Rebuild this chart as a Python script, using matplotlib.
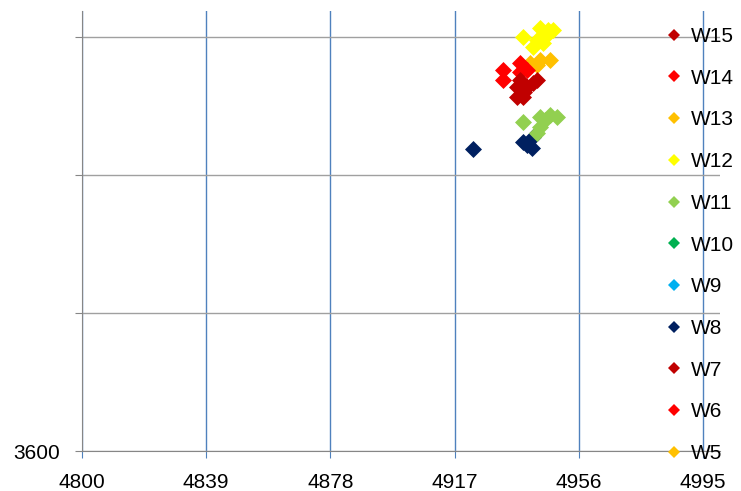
import numpy as np
import matplotlib.pyplot as plt
from matplotlib.lines import Line2D

plt.rcParams['font.family'] = ['Liberation Sans', 'DejaVu Sans']

# series data (x, y)
w8_x = [4922.8, 4938.5, 4941.6, 4941.3, 4939.7]
w8_y = [3818.8, 3823.9, 3827.5, 3819.6, 3821.7]
w11_x = [4938.5, 4943.8, 4946.9, 4949.1, 4943.8, 4942.9, 4945.4]
w11_y = [3838.4, 3842.0, 3843.5, 3842.0, 3834.8, 3830.4, 3839.9]
w12_x = [4938.5, 4943.8, 4947.9, 4946.0, 4942.9, 4941.6, 4944.7, 4946.3]
w12_y = [3900.0, 3906.5, 3905.0, 3901.4, 3897.8, 3892.8, 3895.7, 3905.0]
w13_x = [4940.7, 4943.8, 4946.9, 4942.9]
w13_y = [3881.2, 3883.3, 3883.3, 3879.7]
w14_x = [4932.2, 4932.2, 4937.5, 4937.5, 4939.7]
w14_y = [3876.1, 3868.8, 3881.2, 3874.6, 3876.1]
w15_x = [4936.6, 4938.5, 4941.6, 4942.9, 4936.6, 4939.7, 4937.5, 4938.8]
w15_y = [3863.8, 3856.5, 3866.7, 3868.8, 3856.5, 3863.8, 3868.8, 3860.5]

series = ['W5', 'W6', 'W7', 'W8', 'W9', 'W10', 'W11', 'W12', 'W13', 'W14', 'W15']
colors = {'W5': '#FFC000', 'W6': '#FF0000', 'W7': '#C00000', 'W8': '#002060',
          'W9': '#00B0F0', 'W10': '#00B050', 'W11': '#92D050', 'W12': '#FFFF00',
          'W13': '#FFC000', 'W14': '#FF0000', 'W15': '#C00000'}
data = {'W5': ([], []), 'W6': ([], []), 'W7': ([], []), 'W8': (w8_x, w8_y),
        'W9': ([], []), 'W10': ([], []), 'W11': (w11_x, w11_y),
        'W12': (w12_x, w12_y), 'W13': (w13_x, w13_y), 'W14': (w14_x, w14_y),
        'W15': (w15_x, w15_y)}

xticks = [4800, 4839, 4878, 4917, 4956, 4995]
yticks = [3600, 3700, 3800, 3900]
ytick_labels = ['3600', '', '', '']

fig = plt.figure(figsize=(7.41, 4.91), dpi=100)
ax = fig.add_axes([82 / 741, 1 - 451 / 491, (720 - 82) / 741, 440 / 491])

for s in series:
    x, y = data[s]
    ax.scatter(x, y, marker='D', s=75, color=colors[s], linewidths=0, zorder=3)

ax.set_xlim(4800, 5000.3)
ax.set_ylim(3600, 3919)
ax.set_xticks(xticks)
ax.set_yticks(yticks)
ax.set_yticklabels(ytick_labels)
ax.tick_params(axis='both', labelsize=15, colors='#868686', labelcolor='black', length=5)
ax.tick_params(axis='x', colors='#4F81BD', labelcolor='black', pad=11)
ax.tick_params(axis='y', pad=10.5)

ax.grid(axis='x', color='#4F81BD', linewidth=1)
ax.grid(axis='y', color='#A0A0A0', linewidth=1)
ax.set_axisbelow(True)
for sp in ['top', 'right']:
    ax.spines[sp].set_visible(False)
for sp in ['left', 'bottom']:
    ax.spines[sp].set_color('#868686')

handles = [Line2D([], [], marker='D', linestyle='none', markersize=6.5,
                  color=colors[s], markeredgewidth=0) for s in series[::-1]]
fig.legend(handles, series[::-1], loc='upper left', bbox_to_anchor=(664 / 741, 1 - 27 / 491),
           frameon=False, fontsize=15, handlelength=1.0, handletextpad=0.3,
           labelspacing=1.09, borderpad=0, borderaxespad=0)

fig.savefig('out.png', dpi=100)
